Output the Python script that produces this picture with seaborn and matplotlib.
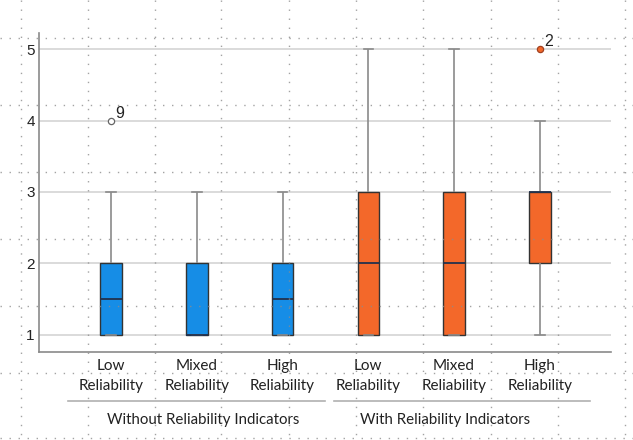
import pandas as pd
import matplotlib.pyplot as plt
import seaborn as sns

# Dữ liệu: điểm đánh giá của từng nhóm
groups = ["Without Reliability Indicators", "With Reliability Indicators"]
levels = ["Low\nReliability", "Mixed\nReliability", "High\nReliability"]
without_low = [1, 1, 1, 1, 1, 2, 2, 2, 3, 4]
without_mixed = [1, 1, 1, 1, 1, 1, 2, 2, 3, 3]
without_high = [1, 1, 1, 1, 1, 2, 2, 2, 3, 3]
with_low = [1, 1, 1, 1, 2, 2, 3, 3, 4, 5]
with_mixed = [1, 1, 1, 1, 2, 2, 3, 3, 4, 5]
with_high = [1, 2, 2, 2, 3, 3, 3, 3, 4, 5]
outlier_cases = {0: "9", 5: "2"}
colors = {"Without Reliability Indicators": "#168de6", "With Reliability Indicators": "#f3682a"}

series = [without_low, without_mixed, without_high, with_low, with_mixed, with_high]
rows = []
for i, vals in enumerate(series):
    g = groups[i // 3]
    for v in vals:
        rows.append({"cond": f"{g}|{levels[i % 3]}", "group": g, "score": v})
df = pd.DataFrame(rows)
order = [f"{g}|{l}" for g in groups for l in levels]

fig = plt.figure(figsize=(6.33, 4.4), dpi=100)
ax = fig.add_axes([39 / 633, 88 / 440, 572 / 633, 319 / 440])

sns.boxplot(data=df, x="cond", y="score", hue="group", order=order, palette=colors,
            saturation=1, dodge=False, width=0.25, legend=False, ax=ax, capwidths=0.11,
            boxprops=dict(edgecolor="#333333", linewidth=1),
            medianprops=dict(color="#22314d", linewidth=1.3),
            whiskerprops=dict(color="#8a8a8a", linewidth=1.2),
            capprops=dict(color="#8a8a8a", linewidth=1.2),
            flierprops=dict(marker="o", markersize=4.5, markerfacecolor="white",
                            markeredgecolor="#666666", markeredgewidth=0.9))

# kiểu điểm ngoại lai + nhãn số thứ tự
for ln in ax.lines:
    xd = ln.get_xdata()
    if ln.get_marker() == "o" and len(xd) > 0:
        pos = int(round(xd[0]))
        if pos >= 3:
            ln.set_markerfacecolor("#f3682a")
            ln.set_markeredgecolor("#a04020")
        if pos in outlier_cases:
            ax.annotate(outlier_cases[pos], (xd[0], ln.get_ydata()[0]),
                        xytext=(3, 2), textcoords="offset points",
                        fontsize=11.5, family="Liberation Sans", color="#222222")

ax.set_xlim(-0.84, 5.83)
ax.set_ylim(0.762, 5.224)
ax.set_yticks([1, 2, 3, 4, 5])
ax.set_xticks(range(6))
ax.set_xticklabels(levels * 2, family="Lato", fontsize=11, color="#222222", linespacing=1.55)
for lab in ax.get_yticklabels():
    lab.set_family("Liberation Sans")
    lab.set_fontsize(11)
    lab.set_color("#222222")
ax.tick_params(axis="both", length=0)
ax.tick_params(axis="y", pad=3)
ax.tick_params(axis="x", pad=5)
ax.set_xlabel("")
ax.set_ylabel("")
ax.grid(axis="y", color="#d4d4d4", linewidth=1.2)
ax.set_axisbelow(True)
for s in ["top", "right"]:
    ax.spines[s].set_visible(False)
for s in ["left", "bottom"]:
    ax.spines[s].set_color("#8a8a8a")
    ax.spines[s].set_linewidth(1.2)

# đường nhóm và tên nhóm
tr = ax.get_xaxis_transform()
ax.plot([-0.5, 2.49], [-0.154, -0.154], transform=tr, color="#b0b0b0", lw=1.2, clip_on=False)
ax.plot([2.6, 5.58], [-0.154, -0.154], transform=tr, color="#b0b0b0", lw=1.2, clip_on=False)
ax.text(1.08, -0.212, groups[0], transform=tr, ha="center", va="center",
        family="Lato", fontsize=10.8, color="#222222")
ax.text(3.9, -0.212, groups[1], transform=tr, ha="center", va="center",
        family="Lato", fontsize=10.8, color="#222222")

# lưới chấm nền phía trên
ov = fig.add_axes([0, 0, 1, 1], zorder=10)
ov.set_xlim(0, 633)
ov.set_ylim(440, 0)
ov.axis("off")
ov.patch.set_alpha(0)
for x in [21, 88, 155, 221, 289, 356, 423, 491, 558, 625]:
    ov.plot([x, x], [0, 440], color="#8c8c8c", lw=1, ls=(0, (1, 5.5)), alpha=0.8)
for y in [38, 105, 172, 239, 306, 373, 438]:
    ov.plot([0, 633], [y, y], color="#8c8c8c", lw=1, ls=(0, (1, 5.5)), alpha=0.8)

fig.savefig("out.png", dpi=100)
